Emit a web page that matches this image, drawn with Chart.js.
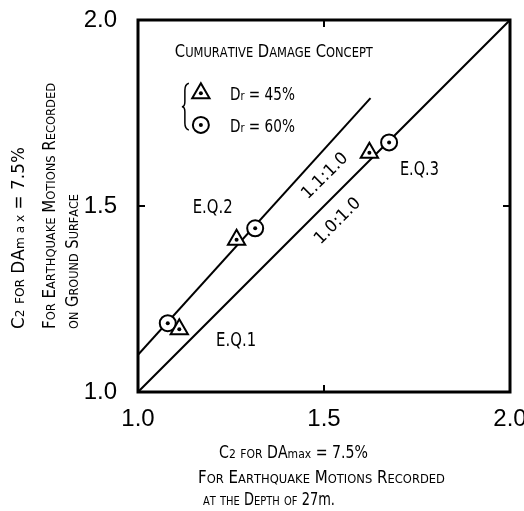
<!DOCTYPE html>
<html>
<head>
<meta charset="utf-8">
<script src="https://cdn.jsdelivr.net/npm/chart.js@4.4.1/dist/chart.umd.min.js"></script>
<style>
  html, body { margin: 0; padding: 0; background: #fff; }
  #wrap { width: 524px; height: 511px; }
</style>
</head>
<body>
<div id="wrap"><canvas id="myChart" width="524" height="511"></canvas></div>
<script>
// C2 for DAmax = 7.5%: x = at depth of 27 m, y = on ground surface
const events = ["E.Q.1", "E.Q.2", "E.Q.3"];
const dr45X = [1.111, 1.265, 1.622];
const dr45Y = [1.169, 1.409, 1.643];
const dr60X = [1.080, 1.315, 1.675];
const dr60Y = [1.185, 1.440, 1.671];

// reference lines 1.0:1.0 and 1.1:1.0
const line10X = [1.0, 2.0];
const line10Y = [1.0, 2.0];
const line11X = [1.0, 1.625];
const line11Y = [1.1, 1.79];

const tickValues = [1.0, 1.5, 2.0];

const FONT = "'DejaVu Sans', sans-serif";
const TICK_FONT = "'Liberation Sans Narrow', 'Liberation Sans', sans-serif";

const pts = (xs, ys) => xs.map((x, i) => ({ x: x, y: ys[i] }));

// lettering: upper case big, lower case turned into small capitals
function glyphs(pieces, big, small) {
  const out = [];
  pieces.forEach(([t, k]) => {
    for (const ch of t) {
      if (k === 'sc' && ch !== ch.toUpperCase()) out.push([ch.toUpperCase(), small]);
      else out.push([ch, k === 's' ? small : big]);
    }
  });
  return out;
}

function write(ctx, pieces, x, y, o) {
  const gl = glyphs(pieces, o.big, o.small || o.big);
  let nat = 0;
  gl.forEach(([ch, sz]) => { ctx.font = sz + 'px ' + FONT; nat += ctx.measureText(ch).width; });
  const sx = o.width ? o.width / nat : (o.sx || 0.8);
  const w = nat * sx;
  ctx.save();
  ctx.translate(x, y);
  if (o.rot) ctx.rotate(o.rot);
  ctx.scale(sx, 1);
  let cx = (o.align === 'center' ? -w / 2 : 0) / sx;
  ctx.fillStyle = '#000';
  ctx.textBaseline = 'alphabetic';
  ctx.textAlign = 'left';
  gl.forEach(([ch, sz]) => {
    ctx.font = sz + 'px ' + FONT;
    ctx.fillText(ch, cx, o.dy || 0);
    cx += ctx.measureText(ch).width;
  });
  ctx.restore();
}

function marker(ctx, style, radius, x, y) {
  ctx.save();
  ctx.fillStyle = '#fff';
  ctx.strokeStyle = '#000';
  ctx.lineWidth = 2;
  Chart.helpers.drawPoint(ctx, { pointStyle: style, radius: radius, borderWidth: 2, rotation: 0 }, x, y);
  ctx.fillStyle = '#000';
  Chart.helpers.drawPoint(ctx, { pointStyle: 'circle', radius: 2, borderWidth: 0, rotation: 0 }, x, y);
  ctx.restore();
}

const paper = {
  id: 'paper',
  beforeDraw(chart) {
    const c = chart.ctx;
    c.save();
    c.fillStyle = '#fff';
    c.fillRect(0, 0, chart.width, chart.height);
    c.restore();
  },
  afterDraw(chart) {
    const c = chart.ctx;
    const a = chart.chartArea;
    const sx = chart.scales.x, sy = chart.scales.y;
    const X = v => sx.getPixelForValue(v), Y = v => sy.getPixelForValue(v);

    // frame and inward ticks
    c.save();
    c.strokeStyle = '#000';
    c.lineWidth = 3;
    c.strokeRect(a.left, a.top, a.right - a.left, a.bottom - a.top);
    c.lineWidth = 2;
    c.beginPath();
    c.moveTo(X(1.5), a.bottom); c.lineTo(X(1.5), a.bottom - 7);
    c.moveTo(X(1.5), a.top); c.lineTo(X(1.5), a.top + 7);
    c.moveTo(a.left, Y(1.5)); c.lineTo(a.left + 7, Y(1.5));
    c.moveTo(a.right, Y(1.5)); c.lineTo(a.right - 7, Y(1.5));
    c.stroke();
    c.restore();

    // legend box
    write(c, [['Cumurative Damage Concept', 'sc']], X(1.099), Y(1.90), { big: 18, small: 14, width: 198 });
    marker(c, 'triangle', 10, X(1.169), Y(1.803));
    marker(c, 'circle', 8, X(1.169), Y(1.718));
    write(c, [['D', 'n'], ['r', 's'], [' = 45%', 'n']], X(1.247), Y(1.785), { big: 18, small: 13, width: 65 });
    write(c, [['D', 'n'], ['r', 's'], [' = 60%', 'n']], X(1.247), Y(1.700), { big: 18, small: 13, width: 65 });
    c.save();
    c.strokeStyle = '#000';
    c.lineWidth = 1.5;
    const bx = X(1.126), bt = Y(1.830), bb = Y(1.704), bm = (bt + bb) / 2;
    c.beginPath();
    c.moveTo(bx + 4, bt);
    c.quadraticCurveTo(bx, bt + 1, bx, bt + 7);
    c.lineTo(bx, bm - 5);
    c.quadraticCurveTo(bx, bm, bx - 3, bm);
    c.quadraticCurveTo(bx, bm, bx, bm + 5);
    c.lineTo(bx, bb - 7);
    c.quadraticCurveTo(bx, bb - 1, bx + 4, bb);
    c.stroke();
    c.restore();

    // event labels
    write(c, [[events[0], 'n']], X(1.210), Y(1.124), { big: 19, width: 40 });
    write(c, [[events[1], 'n']], X(1.147), Y(1.482), { big: 19, width: 40 });
    write(c, [[events[2], 'n']], X(1.704), Y(1.583), { big: 19, width: 39 });

    // ratio labels along the lines
    write(c, [['1.1:1.0', 'n']], X(1.500), Y(1.583), { big: 17, width: 58, rot: -Math.PI / 4, align: 'center', dy: 6 });
    write(c, [['1.0:1.0', 'n']], X(1.534), Y(1.462), { big: 17, width: 58, rot: -Math.PI / 4, align: 'center', dy: 6 });

    // x axis title
    const xl = a.left;
    write(c, [['C', 'n'], ['2', 's'], [' for ', 'sc'], ['DA', 'n'], ['max', 's'], [' = 7.5%', 'n']], xl + 81, a.bottom + 66, { big: 17, small: 13, width: 149 });
    write(c, [['For Earthquake Motions Recorded', 'sc']], xl + 60, a.bottom + 91, { big: 17, small: 13, width: 247 });
    write(c, [['at the Depth of 27', 'sc'], ['m.', 'n']], xl + 65, a.bottom + 113, { big: 17, small: 13, width: 132 });

    // y axis title (rotated)
    const yb = a.bottom - 63;
    write(c, [['C', 'n'], ['2', 's'], [' for ', 'sc'], ['DA', 'n'], ['m a x', 's'], [' = 7.5%', 'n']], 24, yb, { big: 18, small: 13, width: 182, rot: -Math.PI / 2 });
    write(c, [['For Earthquake Motions Recorded', 'sc']], 55, yb, { big: 17, small: 13, width: 246, rot: -Math.PI / 2 });
    write(c, [['on Ground Surface', 'sc']], 78, yb, { big: 17, small: 13, width: 135, rot: -Math.PI / 2 });
  }
};

const dots = pts(dr45X.concat(dr60X), dr45Y.concat(dr60Y));

const ctx = document.getElementById('myChart');
new Chart(ctx, {
  type: 'scatter',
  data: {
    datasets: [
      {
        label: 'centre',
        data: dots,
        pointStyle: 'circle',
        pointRadius: 2,
        pointBackgroundColor: '#000',
        pointBorderWidth: 0
      },
      {
        label: 'Dr = 45%',
        data: pts(dr45X, dr45Y),
        pointStyle: 'triangle',
        pointRadius: 10,
        pointBackgroundColor: '#fff',
        pointBorderColor: '#000',
        pointBorderWidth: 2
      },
      {
        label: 'Dr = 60%',
        data: pts(dr60X, dr60Y),
        pointStyle: 'circle',
        pointRadius: 8,
        pointBackgroundColor: '#fff',
        pointBorderColor: '#000',
        pointBorderWidth: 2
      },
      {
        label: '1.1:1.0',
        data: pts(line11X, line11Y),
        showLine: true,
        pointRadius: 0,
        borderColor: '#000',
        borderWidth: 2
      },
      {
        label: '1.0:1.0',
        data: pts(line10X, line10Y),
        showLine: true,
        pointRadius: 0,
        borderColor: '#000',
        borderWidth: 2
      }
    ]
  },
  options: {
    responsive: false,
    animation: false,
    devicePixelRatio: 1,
    layout: { padding: { top: 20, right: 14, left: 0, bottom: 0 } },
    plugins: { legend: { display: false }, tooltip: { enabled: false } },
    scales: {
      x: {
        type: 'linear',
        min: 1,
        max: 2,
        afterBuildTicks: (s) => { s.ticks = tickValues.map(v => ({ value: v })); },
        afterFit: (s) => { s.height = 119; s.paddingLeft = 0; s.paddingRight = 0; },
        ticks: {
          callback: (v) => Number(v).toFixed(1),
          color: '#000',
          font: { family: TICK_FONT, size: 24 },
          padding: 13,
          maxRotation: 0,
          autoSkip: false
        },
        grid: { display: false, drawTicks: false },
        border: { display: false }
      },
      y: {
        type: 'linear',
        min: 1,
        max: 2,
        afterBuildTicks: (s) => { s.ticks = tickValues.map(v => ({ value: v })); },
        afterFit: (s) => { s.width = 138; s.paddingTop = 0; s.paddingBottom = 0; },
        ticks: {
          callback: (v) => Number(v).toFixed(1),
          color: '#000',
          font: { family: TICK_FONT, size: 24 },
          padding: 21,
          autoSkip: false
        },
        grid: { display: false, drawTicks: false },
        border: { display: false }
      }
    }
  },
  plugins: [paper]
});
</script>
</body>
</html>
